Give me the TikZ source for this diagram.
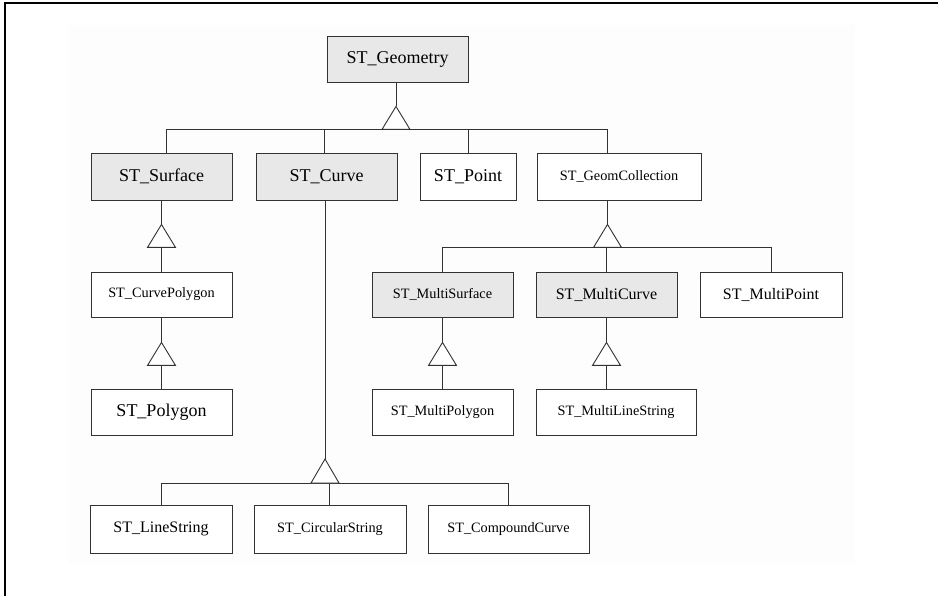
\documentclass[tikz,border=0pt]{standalone}
\usepackage{fontspec}
\setmainfont{Liberation Serif}
\definecolor{boxgray}{RGB}{232,232,232}
\definecolor{bgpale}{RGB}{253,253,253}
\definecolor{linegray}{RGB}{50,50,50}
\tikzset{
  clsbox/.style={draw=linegray, line width=0.9pt, inner sep=0pt, minimum height=46pt, fill=white},
  absbox/.style={clsbox, fill=boxgray},
  bigtxt/.style={font=\fontsize{18}{20}\selectfont},
  midtxt/.style={font=\fontsize{16}{18}\selectfont},
  smltxt/.style={font=\fontsize{14.3}{16}\selectfont},
  conn/.style={draw=linegray, line width=0.9pt},
  tri/.style={draw=linegray, line width=0.9pt, fill=white, line join=miter},
}
\newcommand\inhtri[1]{\draw[tri] (#1) -- ++(-14,23) -- ++(28,0) -- cycle;}
\begin{document}
\begin{tikzpicture}[x=1pt,y=-1pt]
\useasboundingbox (0,0) rectangle (938,596);
\fill[bgpale] (68,25) rectangle (855,564);
\draw[line width=2pt] (5,596) -- (5,3) -- (938,3);

% nodes
\node[absbox, bigtxt, minimum width=141pt, minimum height=46pt] (geom) at (397.5,59) {ST\_Geometry};

\node[absbox, bigtxt, minimum width=141pt, minimum height=47pt] (surface) at (161.5,176.5) {ST\_Surface};
\node[absbox, bigtxt, minimum width=141pt, minimum height=47pt] (curve) at (326.5,176.5) {ST\_Curve};
\node[clsbox, bigtxt, minimum width=96pt, minimum height=47pt] (point) at (468,176.5) {ST\_Point};
\node[clsbox, smltxt, minimum width=164pt, minimum height=47pt] (gcoll) at (619,176.5) {ST\_GeomCollection};

\node[clsbox, smltxt, minimum width=141pt, minimum height=45pt] (curvepoly) at (161.5,294.5) {ST\_CurvePolygon};
\node[absbox, smltxt, minimum width=141pt, minimum height=45pt] (msurface) at (442.5,294.5) {ST\_MultiSurface};
\node[absbox, midtxt, minimum width=141pt, minimum height=45pt] (mcurve) at (606.5,294.5) {ST\_MultiCurve};
\node[clsbox, midtxt, minimum width=142pt, minimum height=45pt] (mpoint) at (771,294.5) {ST\_MultiPoint};

\node[clsbox, bigtxt, minimum width=141pt, minimum height=46pt] (polygon) at (161.5,412) {ST\_Polygon};
\node[clsbox, smltxt, minimum width=141pt, minimum height=46pt] (mpolygon) at (442.5,412) {ST\_MultiPolygon};
\node[clsbox, smltxt, minimum width=160pt, minimum height=46pt] (mlinestr) at (616,412) {ST\_MultiLineString};

\node[clsbox, midtxt, minimum width=142pt, minimum height=48pt] (linestr) at (161,529) {ST\_LineString};
\node[clsbox, smltxt, minimum width=152pt, minimum height=48pt] (circstr) at (330,529) {ST\_CircularString};
\node[clsbox, smltxt, minimum width=161pt, minimum height=48pt] (compcurve) at (508.5,529) {ST\_CompoundCurve};

% ST_Geometry children
\coordinate (geomdn) at ([xshift=-1.5pt]geom.south);
\draw[conn] (geomdn) -- ++(0,24) coordinate (ga);
\path (ga) ++(0,23) coordinate (gb);
\coordinate (surftop) at ([xshift=4.5pt]surface.north);
\coordinate (gcolltop) at ([xshift=-11.5pt]gcoll.north);
\draw[conn] (surftop) -- (surftop |- gb) -- (gcolltop |- gb) -- (gcolltop);
\draw[conn] ([xshift=-2pt]curve.north) -- ([xshift=-2pt]curve.north |- gb);
\draw[conn] (point.north) -- (point.north |- gb);
\inhtri{ga}

% ST_Surface -> ST_CurvePolygon -> ST_Polygon
\draw[conn] (surface.south) -- ++(0,24) coordinate (sa);
\path (sa) ++(0,23) coordinate (sb);
\draw[conn] (sb) -- (curvepoly.north);
\inhtri{sa}
\draw[conn] (curvepoly.south) -- ++(0,25) coordinate (pa);
\path (pa) ++(0,23) coordinate (pb);
\draw[conn] (pb) -- (polygon.north);
\inhtri{pa}

% ST_GeomCollection children
\draw[conn] (gcolltop |- gcoll.south) -- ++(0,24) coordinate (ca);
\path (ca) ++(0,23) coordinate (cb);
\draw[conn] (msurface.north) -- (msurface.north |- cb) -- (mpoint.north |- cb) -- (mpoint.north);
\draw[conn] (mcurve.north) -- (mcurve.north |- cb);
\inhtri{ca}

% ST_MultiSurface -> ST_MultiPolygon
\draw[conn] (msurface.south) -- ++(0,25) coordinate (ma);
\path (ma) ++(0,23) coordinate (mb);
\draw[conn] (mb) -- (mpolygon.north);
\inhtri{ma}

% ST_MultiCurve -> ST_MultiLineString
\draw[conn] (mcurve.south) -- ++(0,25) coordinate (na);
\path (na) ++(0,23) coordinate (nb);
\draw[conn] (nb) -- (nb |- mlinestr.north);
\inhtri{na}

% ST_Curve children
\coordinate (curvedn) at ([xshift=-1.5pt]curve.south);
\draw[conn] (curvedn) -- (curvedn |- 0,459) coordinate (ka);
\path (ka) ++(0,24) coordinate (kb);
\draw[conn] (linestr.north) -- (linestr.north |- kb) -- ([xshift=-0.5pt]compcurve.north |- kb) -- ([xshift=-0.5pt]compcurve.north);
\draw[conn] ([xshift=-1pt]circstr.north) -- ([xshift=-1pt]circstr.north |- kb);
\draw[tri] (ka) -- ++(-14,24) -- ++(28,0) -- cycle;
\end{tikzpicture}
\end{document}
